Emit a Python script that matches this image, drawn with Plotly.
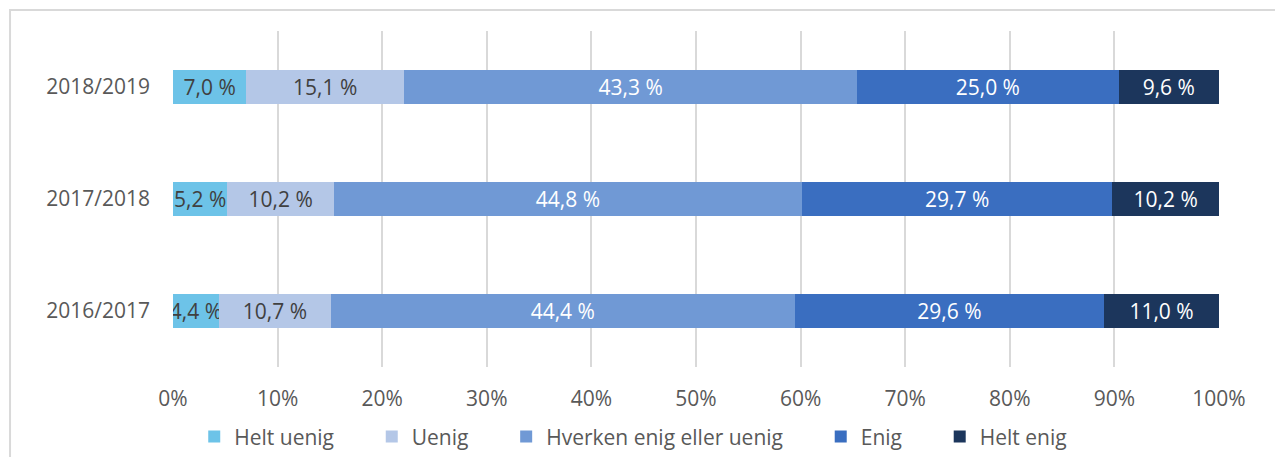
import plotly.graph_objects as go

# data
years = ["2016/2017", "2017/2018", "2018/2019"]
helt_uenig = [4.4, 5.2, 7.0]
uenig = [10.7, 10.2, 15.1]
hverken = [44.4, 44.8, 43.3]
enig = [29.6, 29.7, 25.0]
helt_enig = [11.0, 10.2, 9.6]
x_ticks = list(range(0, 101, 10))

series = [
    ("Helt uenig", helt_uenig, "#6dc3e8", "#404040"),
    ("Uenig", uenig, "#b4c7e7", "#404040"),
    ("Hverken enig eller uenig", hverken, "#7099d5", "#ffffff"),
    ("Enig", enig, "#3a6ec0", "#ffffff"),
    ("Helt enig", helt_enig, "#1c365c", "#ffffff"),
]

FONT = "Open Sans"
PAD = "\u00a0" * 6  # extra room between legend entries

fig = go.Figure()
for i, (name, vals, color, txtcolor) in enumerate(series):
    fig.add_trace(go.Bar(
        y=years,
        x=vals,
        name=name + (PAD if i < len(series) - 1 else ""),
        orientation="h",
        marker=dict(color=color, line=dict(width=0)),
        text=[f"{v:.1f} %".replace(".", ",") for v in vals],
        textposition="inside",
        insidetextanchor="middle",
        textfont=dict(color=txtcolor, size=21, family=FONT),
        hoverinfo="skip",
    ))

# page body has an 8px margin, so the figure is a bit smaller than the window
fig.update_layout(
    barmode="stack",
    barnorm="percent",
    bargap=0.7,
    width=1275,
    height=449,
    margin=dict(l=165, r=64, t=23, b=90, autoexpand=False),
    plot_bgcolor="white",
    paper_bgcolor="white",
    font=dict(family=FONT, size=21, color="#595959"),
    uniformtext=dict(minsize=21, mode="show"),
    legend=dict(
        orientation="h",
        x=0.44, xanchor="center",
        yref="container", y=0.045, yanchor="middle",
        font=dict(size=21, color="#595959"),
        traceorder="normal",
    ),
    shapes=[dict(
        type="rect", xref="paper", yref="paper",
        x0=-0.1558, x1=1.0621, y0=-0.45, y1=1.0625,
        line=dict(color="#d9d9d9", width=2), layer="below",
    )],
)
fig.update_xaxes(
    range=[0, 100],
    tickvals=x_ticks,
    ticktext=[f"{t}%" for t in x_ticks],
    showgrid=True, gridcolor="#d9d9d9", gridwidth=2,
    zeroline=False, showline=False,
    ticklabelstandoff=17,
    automargin=False,
    fixedrange=True,
)
fig.update_yaxes(
    showgrid=False, zeroline=False, showline=False,
    ticklabelstandoff=22,
    automargin=False,
)

fig.write_html("out.html")
